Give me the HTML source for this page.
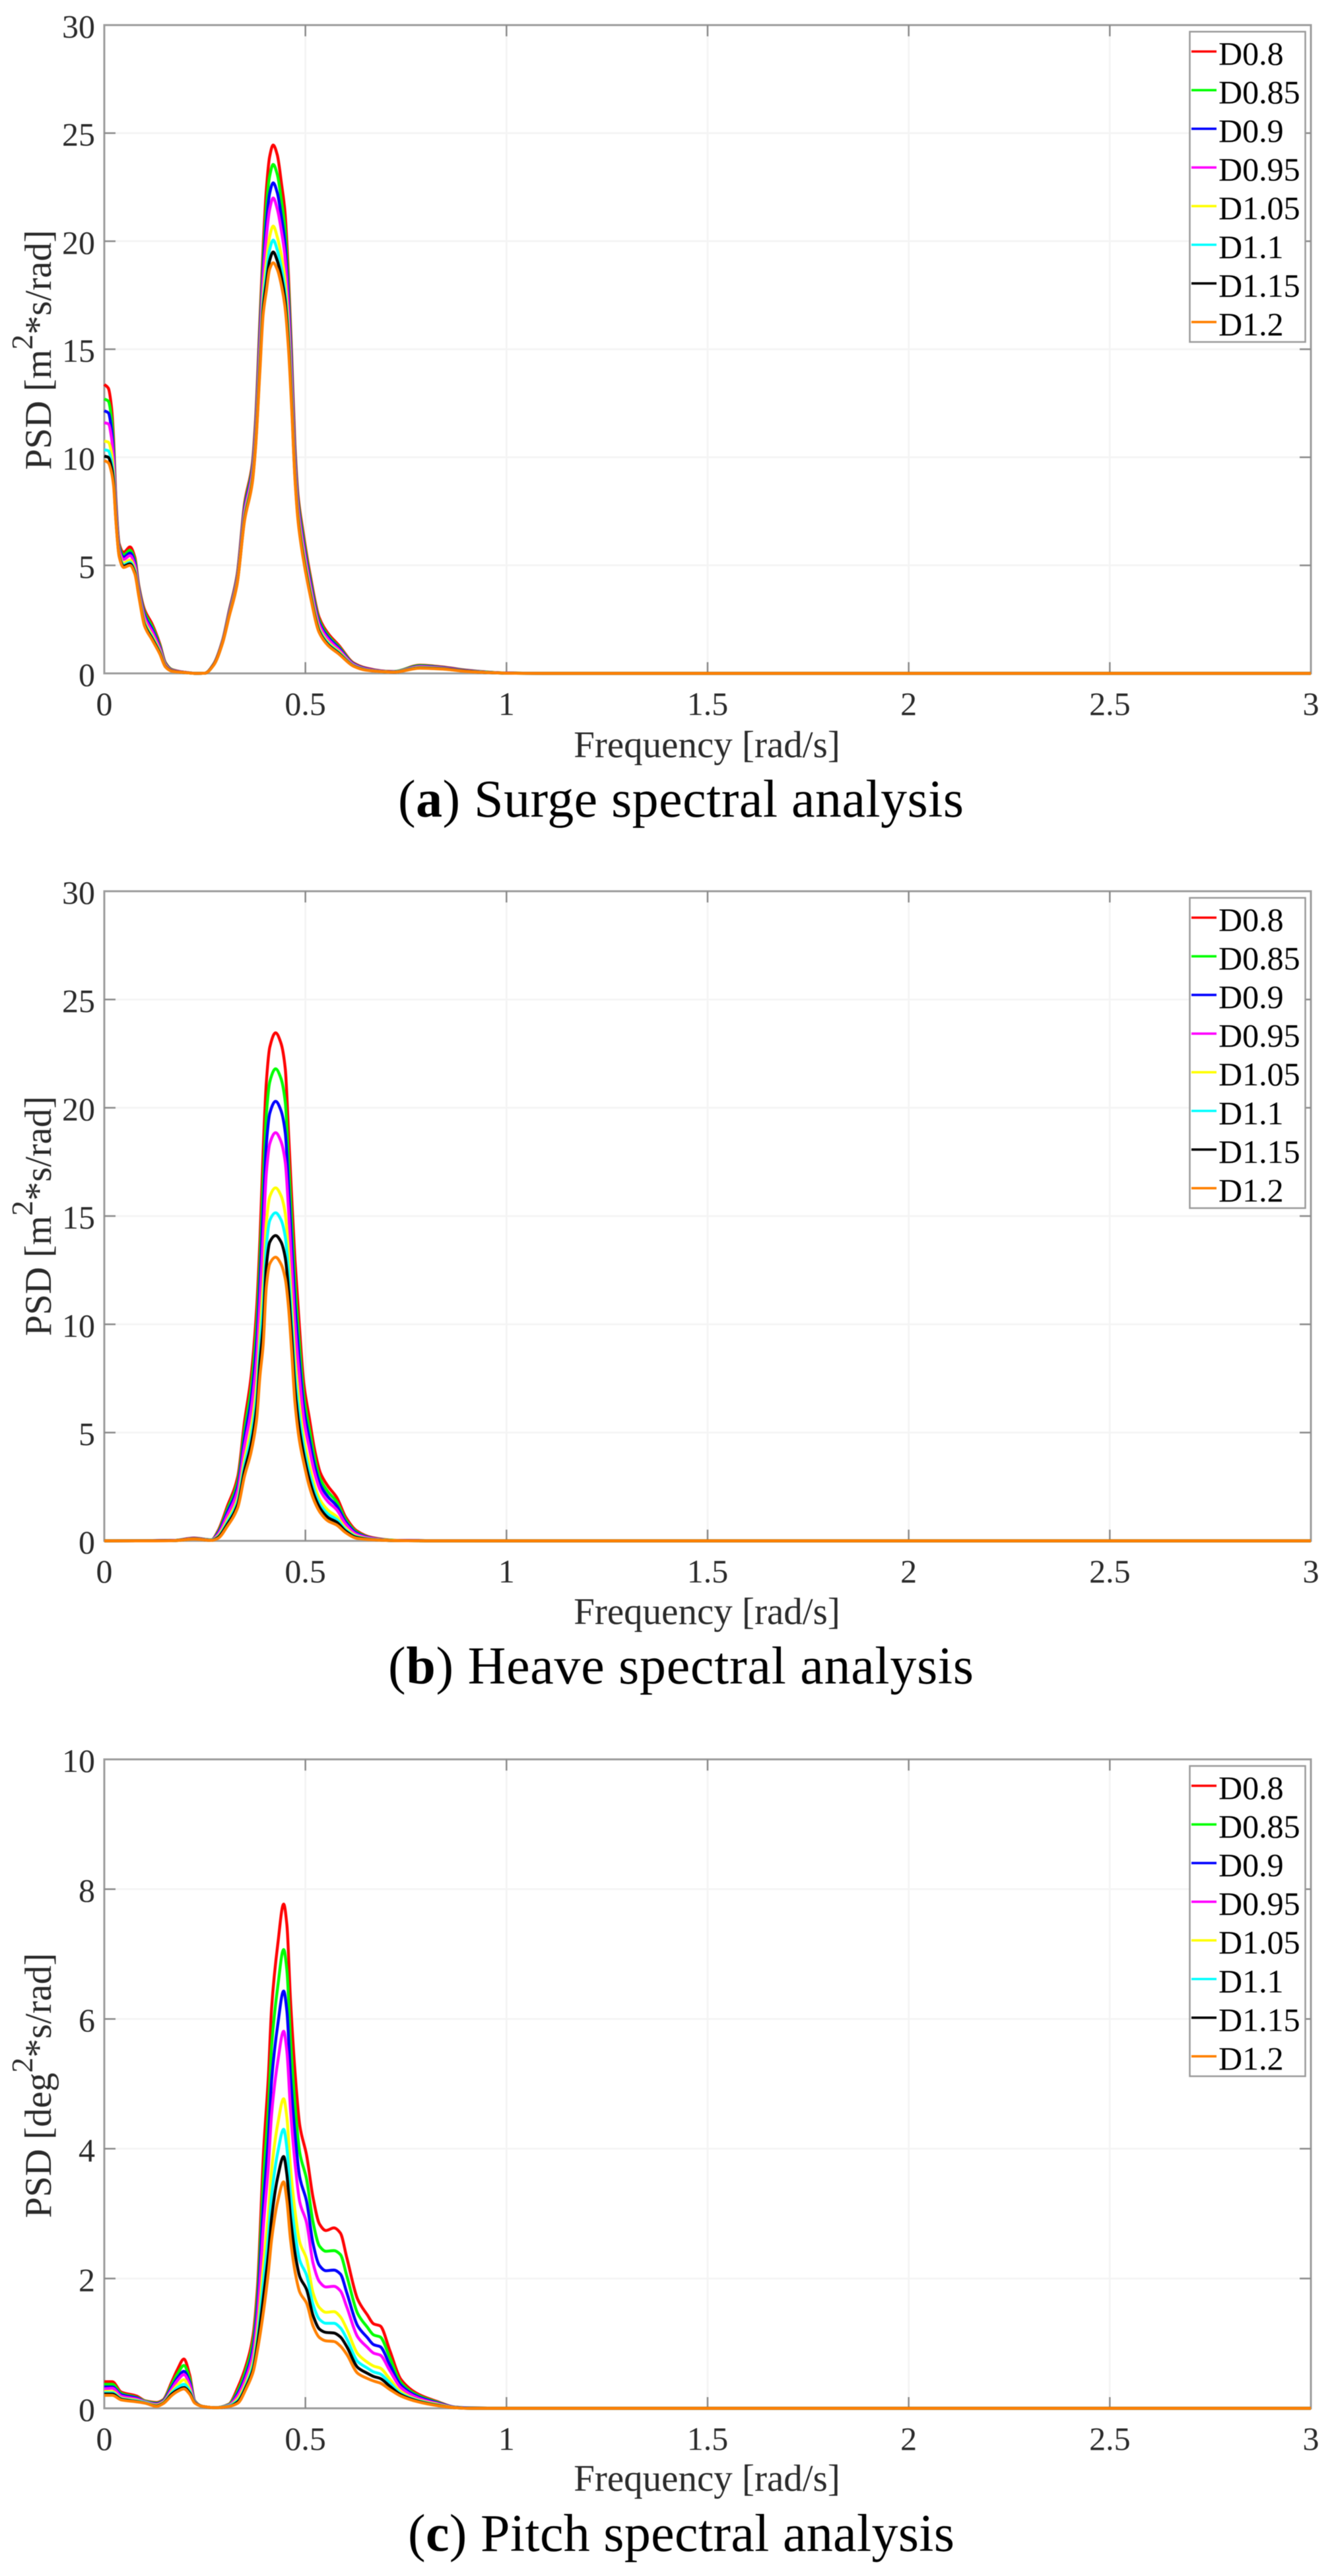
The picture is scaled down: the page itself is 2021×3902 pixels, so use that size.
<!DOCTYPE html>
<html lang="en">
<head>
<meta charset="utf-8">
<title>Spectral analysis charts</title>
<style>
html,body{margin:0;padding:0;background:#fff;}
svg{display:block;filter:blur(0.6px);}
text{font-family:"Liberation Serif",serif;fill:#1a1a1a;}
.tick{font-size:50px;fill:#2a2a2a;}
.axis-title{font-size:57px;fill:#2a2a2a;}
.caption{font-size:80px;fill:#000;}
.legend-label{font-size:50px;fill:#000;}
</style>
</head>
<body>
<svg id="figure" xmlns="http://www.w3.org/2000/svg" width="2021" height="3902" viewBox="0 0 2021 3902">
  <rect x="0" y="0" width="2021" height="3902" fill="#fff"/>
  <g id="panel-a"></g>
  <g id="panel-b"></g>
  <g id="panel-c"></g>

  <text class="axis-title" text-anchor="middle" transform="translate(77,530) rotate(-90)">PSD [m<tspan font-size="46" dy="-28">2</tspan><tspan dy="28">*s/rad]</tspan></text>
  <text class="axis-title" x="1071" y="1147" text-anchor="middle">Frequency [rad/s]</text>
  <text class="caption" x="603" y="1237" textLength="857" lengthAdjust="spacing">(<tspan font-weight="bold">a</tspan>) Surge spectral analysis</text>

  <text class="axis-title" text-anchor="middle" transform="translate(77,1842) rotate(-90)">PSD [m<tspan font-size="46" dy="-28">2</tspan><tspan dy="28">*s/rad]</tspan></text>
  <text class="axis-title" x="1071" y="2460" text-anchor="middle">Frequency [rad/s]</text>
  <text class="caption" x="588" y="2550" textLength="887" lengthAdjust="spacing">(<tspan font-weight="bold">b</tspan>) Heave spectral analysis</text>

  <text class="axis-title" text-anchor="middle" transform="translate(77,3159) rotate(-90)">PSD [deg<tspan font-size="46" dy="-28">2</tspan><tspan dy="28">*s/rad]</tspan></text>
  <text class="axis-title" x="1071" y="3773" text-anchor="middle">Frequency [rad/s]</text>
  <text class="caption" x="618" y="3864" textLength="828" lengthAdjust="spacing">(<tspan font-weight="bold">c</tspan>) Pitch spectral analysis</text>
</svg>
<script>
const seriesNames = ['D0.8','D0.85','D0.9','D0.95','D1.05','D1.1','D1.15','D1.2'];
const seriesColors = ['#ff0000','#00ff00','#0000ff','#ff00ff','#ffff00','#00ffff','#000000','#ff8000'];
const xTicks = [0,0.5,1,1.5,2,2.5,3];
const xTickLabels = ['0','0.5','1','1.5','2','2.5','3'];
const surgeYTicks = [0,5,10,15,20,25,30];
const heaveYTicks = [0,5,10,15,20,25,30];
const pitchYTicks = [0,2,4,6,8,10];

const surgeFreq = [0,.01,.018,.023,.029,.037,.048,.064,.076,.086,.1,.119,.138,.152,.168,.2,.228,.25,.272,.294,.31,.33,.349,.368,.376,.387,.395,.403,.411,.42,.43,.441,.449,.458,.466,.474,.482,.493,.512,.534,.556,.583,.62,.65,.7,.72,.785,.84,.9,.95,1,1.1,3];
const surgeD080 = [13.37,13.2,12.3,10.9,8.05,6.0,5.6,5.85,5.37,4.05,2.95,2.28,1.37,.5,.18,.05,0,.01,.44,1.53,2.87,4.54,7.9,9.7,11.7,16.4,19.75,22.4,23.9,24.45,24.0,22.6,21.4,18.4,14.7,10.6,8.2,6.7,4.55,2.6,1.86,1.3,.48,.25,.1,.09,.38,.3,.15,.07,.02,0,0];
const surgeD085 = [12.7,12.6,11.8,10.53,7.87,5.9,5.48,5.7,5.24,3.97,2.82,2.16,1.29,.47,.17,.05,0,.01,.43,1.51,2.82,4.46,7.76,9.55,11.48,16.0,19.2,21.6,23.0,23.55,23.1,21.8,20.65,17.82,14.28,10.33,8.0,6.5,4.39,2.48,1.76,1.23,.45,.23,.095,.09,.36,.28,.14,.065,.02,0,0];
const surgeD090 = [12.15,12.06,11.3,10.17,7.7,5.8,5.37,5.57,5.12,3.89,2.7,2.04,1.21,.43,.15,.05,0,.01,.42,1.49,2.78,4.39,7.64,9.4,11.27,15.6,18.7,20.85,22.2,22.7,22.25,21.05,19.95,17.28,13.88,10.07,7.8,6.3,4.24,2.37,1.68,1.17,.43,.22,.09,.08,.33,.27,.13,.06,.015,0,0];
const surgeD095 = [11.6,11.55,10.9,9.87,7.56,5.72,5.27,5.45,5.01,3.82,2.6,1.94,1.15,.41,.14,.05,0,.01,.41,1.47,2.74,4.33,7.52,9.28,11.09,15.27,18.3,20.2,21.46,22.0,21.5,20.4,19.33,16.8,13.53,9.85,7.64,6.14,4.1,2.27,1.6,1.11,.41,.2,.085,.08,.31,.25,.12,.055,.015,0,0];
const surgeD105 = [10.75,10.7,10.2,9.34,7.3,5.57,5.1,5.25,4.82,3.7,2.42,1.76,1.04,.36,.12,.04,0,.01,.4,1.44,2.68,4.23,7.33,9.06,10.78,14.7,17.5,19.06,20.2,20.7,20.2,19.27,18.28,15.99,12.93,9.46,7.35,5.85,3.88,2.1,1.46,1.02,.37,.18,.08,.07,.28,.23,.11,.05,.01,0,0];
const surgeD110 = [10.35,10.3,9.8,9.07,7.18,5.5,5.02,5.14,4.73,3.64,2.33,1.67,.98,.33,.11,.04,0,.01,.39,1.42,2.65,4.17,7.24,8.95,10.62,14.4,17.15,18.5,19.6,20.05,19.6,18.7,17.75,15.58,12.63,9.27,7.2,5.7,3.76,2.02,1.4,.97,.36,.17,.075,.07,.26,.22,.1,.05,.01,0,0];
const surgeD115 = [10.05,10.0,9.54,8.88,7.08,5.45,4.96,5.07,4.66,3.59,2.26,1.61,.94,.32,.11,.04,0,.01,.39,1.41,2.62,4.13,7.16,8.87,10.5,14.19,16.85,18.08,19.1,19.5,19.1,18.28,17.35,15.27,12.4,9.13,7.1,5.6,3.68,1.96,1.34,.93,.34,.16,.07,.06,.25,.21,.1,.04,.01,0,0];
const surgeD120 = [9.85,9.75,9.3,8.7,7.0,5.4,4.9,5.0,4.6,3.55,2.2,1.55,.9,.3,.1,.04,0,.01,.38,1.4,2.6,4.1,7.1,8.8,10.4,14.0,16.6,17.7,18.7,19.0,18.7,17.9,17.0,15.0,12.2,9.0,7.0,5.5,3.6,1.9,1.3,.9,.33,.15,.07,.06,.24,.2,.09,.04,.01,0,0];

const heaveFreq = [0,.119,.1735,.223,.2665,.283,.305,.332,.3485,.365,.379,.387,.395,.403,.4115,.426,.439,.45,.458,.466,.474,.485,.496,.51,.523,.537,.556,.578,.6,.627,.666,.72,.8,1,3];
const heaveD080 = [0,.01,.02,.13,.05,.47,1.55,2.98,5.48,7.6,10.8,13.9,18,21.2,22.8,23.46,23.0,21.8,18.9,15.85,13.0,9.95,7.27,5.65,4.2,3.15,2.53,2.0,1.1,.47,.15,.03,.01,0,0];
const heaveD085 = [0,.01,.02,.12,.05,.41,1.41,2.75,5.08,7.04,9.98,12.89,16.57,19.69,21.2,21.8,21.37,20.25,17.6,14.71,11.94,9.1,6.68,5.15,3.82,2.85,2.27,1.8,.98,.41,.13,.03,.01,0,0];
const heaveD090 = [0,.01,.015,.12,.04,.36,1.28,2.54,4.72,6.53,9.23,11.98,15.27,18.32,19.75,20.3,19.89,18.84,16.43,13.67,10.99,8.33,6.15,4.69,3.47,2.59,2.04,1.61,.88,.36,.12,.02,.01,0,0];
const heaveD095 = [0,.01,.015,.11,.04,.31,1.15,2.34,4.37,6.04,8.51,11.1,14.02,17.0,18.35,18.85,18.46,17.48,15.3,12.67,10.06,7.59,5.64,4.25,3.13,2.33,1.81,1.43,.78,.31,.11,.02,.01,0,0];
const heaveD105 = [0,.01,.01,.1,.03,.23,.93,1.99,3.76,5.19,7.25,9.55,11.82,14.68,15.9,16.3,15.96,15.11,13.31,10.92,8.45,6.29,4.74,3.48,2.54,1.87,1.42,1.12,.6,.23,.08,.02,0,0,0];
const heaveD110 = [0,.01,.01,.09,.03,.19,.83,1.84,3.48,4.8,6.68,8.86,10.84,13.64,14.8,15.15,14.84,14.04,12.42,10.13,7.72,5.71,4.33,3.13,2.28,1.67,1.24,.98,.52,.19,.07,.01,0,0,0];
const heaveD115 = [0,.01,.01,.09,.02,.16,.74,1.69,3.23,4.45,6.17,8.23,9.95,12.7,13.8,14.1,13.82,13.07,11.61,9.42,7.06,5.18,3.97,2.82,2.04,1.49,1.08,.86,.45,.16,.06,.01,0,0,0];
const heaveD120 = [0,0,.01,.08,.02,.12,.65,1.55,2.98,4.1,5.65,7.6,9.05,11.75,12.8,13.1,12.8,12.1,10.8,8.7,6.4,4.65,3.6,2.5,1.8,1.3,.92,.73,.38,.12,.05,.01,0,0,0];

const pitchFreq = [0,.02,.042,.08,.102,.13,.146,.168,.182,.198,.212,.225,.244,.277,.31,.332,.354,.37,.381,.396,.408,.416,.4315,.446,.454,.463,.475,.486,.503,.519,.535,.551,.571,.587,.603,.63,.654,.67,.686,.71,.737,.78,.83,.87,.91,1,3];
const pitchD080 = [.41,.41,.25,.19,.115,.09,.13,.41,.6,.76,.52,.115,.03,.01,.065,.32,.69,1.13,1.88,3.95,5.12,6.17,7.16,7.77,7.45,6.29,5.12,4.36,3.9,3.25,2.84,2.74,2.78,2.7,2.32,1.68,1.44,1.3,1.27,.89,.45,.22,.1,.02,.005,0,0];
const pitchD085 = [.37,.37,.23,.17,.11,.08,.12,.37,.53,.66,.46,.11,.03,.01,.06,.27,.62,1.03,1.72,3.55,4.62,5.58,6.51,7.07,6.75,5.68,4.62,3.94,3.53,2.87,2.5,2.42,2.43,2.37,2.04,1.46,1.25,1.13,1.1,.78,.4,.2,.09,.02,.005,0,0];
const pitchD090 = [.33,.33,.21,.16,.1,.07,.11,.33,.47,.57,.41,.1,.03,.01,.05,.23,.55,.93,1.57,3.18,4.17,5.05,5.92,6.43,6.12,5.13,4.17,3.56,3.19,2.54,2.2,2.12,2.13,2.07,1.78,1.27,1.09,.98,.95,.67,.36,.18,.08,.02,.005,0,0];
const pitchD095 = [.3,.31,.19,.145,.1,.06,.1,.3,.43,.52,.37,.1,.03,.01,.05,.2,.5,.85,1.43,2.83,3.74,4.53,5.35,5.81,5.5,4.6,3.73,3.18,2.86,2.24,1.95,1.87,1.88,1.81,1.56,1.1,.94,.85,.82,.58,.32,.16,.07,.015,0,0,0];
const pitchD105 = [.26,.26,.16,.125,.09,.05,.09,.26,.36,.44,.3,.09,.03,.01,.04,.15,.42,.72,1.2,2.23,3.01,3.67,4.39,4.77,4.48,3.71,3.0,2.56,2.3,1.78,1.55,1.48,1.49,1.41,1.22,.84,.71,.65,.62,.45,.26,.13,.06,.015,0,0,0];
const pitchD110 = [.24,.24,.15,.115,.09,.04,.08,.24,.32,.37,.27,.09,.03,.01,.04,.12,.38,.66,1.08,1.97,2.67,3.28,3.95,4.3,4.01,3.3,2.66,2.28,2.05,1.6,1.37,1.31,1.31,1.24,1.07,.72,.62,.56,.53,.39,.23,.12,.05,.01,0,0,0];
const pitchD115 = [.22,.22,.14,.105,.08,.035,.075,.22,.28,.32,.24,.085,.03,.01,.03,.1,.35,.6,.99,1.73,2.38,2.93,3.57,3.88,3.6,2.94,2.36,2.03,1.83,1.43,1.22,1.17,1.16,1.1,.95,.63,.54,.49,.46,.34,.21,.11,.045,.01,0,0,0];
const pitchD120 = [.2,.2,.13,.1,.08,.03,.07,.2,.26,.3,.22,.08,.03,.01,.03,.08,.32,.56,.9,1.5,2.1,2.6,3.2,3.49,3.2,2.6,2.08,1.79,1.62,1.27,1.09,1.04,1.03,.96,.83,.54,.46,.42,.39,.29,.19,.1,.04,.01,0,0,0];

const SVGNS = 'http://www.w3.org/2000/svg';
const plotLeft = 158, plotRight = 1986, xMax = 3;

function mk(parent, tag, attrs, txt) {
  const el = document.createElementNS(SVGNS, tag);
  for (const k in attrs) el.setAttribute(k, attrs[k]);
  if (txt !== undefined) el.textContent = txt;
  parent.appendChild(el);
  return el;
}

// monotone cubic path through the data points
function curvePath(xs, ys) {
  const n = xs.length, d = [], m = [];
  for (let i = 0; i < n - 1; i++) d.push((ys[i + 1] - ys[i]) / (xs[i + 1] - xs[i]));
  m.push(d[0]);
  for (let i = 1; i < n - 1; i++) {
    if (d[i - 1] * d[i] <= 0) m.push(0);
    else {
      const a = xs[i] - xs[i - 1], b = xs[i + 1] - xs[i];
      m.push(3 * (a + b) / ((2 * b + a) / d[i - 1] + (2 * a + b) / d[i]));
    }
  }
  m.push(d[n - 2]);
  let p = 'M' + xs[0].toFixed(2) + ' ' + ys[0].toFixed(2);
  for (let i = 0; i < n - 1; i++) {
    const h = (xs[i + 1] - xs[i]) / 3;
    p += 'C' + (xs[i] + h).toFixed(2) + ' ' + (ys[i] + m[i] * h).toFixed(2) + ' ' +
         (xs[i + 1] - h).toFixed(2) + ' ' + (ys[i + 1] - m[i + 1] * h).toFixed(2) + ' ' +
         xs[i + 1].toFixed(2) + ' ' + ys[i + 1].toFixed(2);
  }
  return p;
}

function drawPanel(groupId, top, bottom, yMax, yTicks, freq, series) {
  const g = document.getElementById(groupId);
  const xScale = v => plotLeft + (v / xMax) * (plotRight - plotLeft);
  const yScale = v => bottom - (v / yMax) * (bottom - top);

  // gridlines
  for (const t of yTicks) {
    if (t === 0 || t === yMax) continue;
    const el = mk(g, 'line', {x1: plotLeft, x2: plotRight, y1: yScale(t), y2: yScale(t), stroke: '#f4f4f4', 'stroke-width': 2.6});
    
    
  }
  for (const t of xTicks) {
    if (t === 0 || t === xMax) continue;
    const el = mk(g, 'line', {x1: xScale(t), x2: xScale(t), y1: top, y2: bottom, stroke: '#f4f4f4', 'stroke-width': 2.6});
    
    
  }

  // frame
  const frame = mk(g, 'rect', {x: plotLeft, y: top, width: plotRight - plotLeft, height: bottom - top, fill: 'none', stroke: '#9c9c9c', 'stroke-width': 3});
  
  

  // ticks and tick labels
  yTicks.forEach(t => {
    if (t !== 0 && t !== yMax) {
      const a = mk(g, 'line', {x1: plotLeft, x2: plotLeft + 17, y1: yScale(t), y2: yScale(t), stroke: '#8a8a8a', 'stroke-width': 2.5});
      
      
      const b = mk(g, 'line', {x1: plotRight - 17, x2: plotRight, y1: yScale(t), y2: yScale(t), stroke: '#8a8a8a', 'stroke-width': 2.5});
      
      
    }
    const lab = mk(g, 'text', {class: 'tick', x: 144, y: yScale(t) + 19, 'text-anchor': 'end'}, String(t));
    
    
  });
  xTicks.forEach((t, i) => {
    if (t !== 0 && t !== xMax) {
      const a = mk(g, 'line', {x1: xScale(t), x2: xScale(t), y1: bottom - 17, y2: bottom, stroke: '#8a8a8a', 'stroke-width': 2.5});
      
      
      const b = mk(g, 'line', {x1: xScale(t), x2: xScale(t), y1: top, y2: top + 17, stroke: '#8a8a8a', 'stroke-width': 2.5});
      
      
    }
    const lab = mk(g, 'text', {class: 'tick', x: xScale(t), y: bottom + 63, 'text-anchor': 'middle'}, xTickLabels[i]);
    
    
  });

  // series
  series.forEach((vals, i) => {
    const path = mk(g, 'path', {d: curvePath(freq.map(xScale), vals.map(yScale)), fill: 'none', stroke: seriesColors[i], 'stroke-width': 4.4, 'stroke-linejoin': 'round'});
    
    
  });

  // legend
  const legend = mk(g, 'g', {});
  
  
  const box = mk(legend, 'rect', {x: 1802.5, y: top + 10, width: 175, height: 470, fill: '#fff', stroke: '#9a9a9a', 'stroke-width': 2.5});
  
  
  seriesNames.forEach((name, i) => {
    const ly = top + 40 + i * 58.55;
    const ln = mk(legend, 'line', {x1: 1805, x2: 1843, y1: ly, y2: ly, stroke: seriesColors[i], 'stroke-width': 3.6});
    
    
    const tx = mk(legend, 'text', {class: 'legend-label', x: 1846, y: ly + 20}, name);
    
    
  });
}

drawPanel('panel-a', 38, 1020, 30, surgeYTicks, surgeFreq, [surgeD080, surgeD085, surgeD090, surgeD095, surgeD105, surgeD110, surgeD115, surgeD120]);
drawPanel('panel-b', 1350, 2334, 30, heaveYTicks, heaveFreq, [heaveD080, heaveD085, heaveD090, heaveD095, heaveD105, heaveD110, heaveD115, heaveD120]);
drawPanel('panel-c', 2665, 3648, 10, pitchYTicks, pitchFreq, [pitchD080, pitchD085, pitchD090, pitchD095, pitchD105, pitchD110, pitchD115, pitchD120]);
</script>
</body>
</html>
